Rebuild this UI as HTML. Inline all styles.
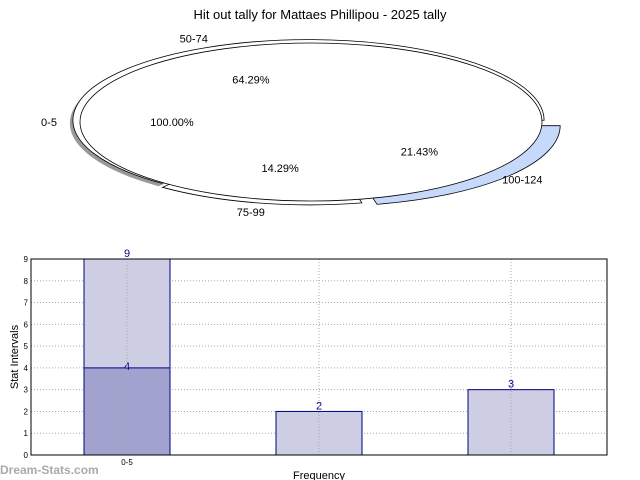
<!DOCTYPE html>
<html><head><meta charset="utf-8"><style>
body{margin:0;background:#fff;}
svg{display:block;font-family:"Liberation Sans","DejaVu Sans",sans-serif;}
</style></head><body>
<svg id="c" width="640" height="480" viewBox="0 0 640 480" xmlns="http://www.w3.org/2000/svg">
<text x="320" y="19" text-anchor="middle" font-size="13">Hit out tally for Mattaes Phillipou - 2025 tally</text>
<g id="pie"></g>
<g id="bars"></g>
<text x="0" y="474" font-size="12" font-weight="bold" fill="#aaa">Dream-Stats.com</text>
</svg>
<script>
// Pie data
const pieLabels = ["100-124", "75-99", "50-74"];
const piePercents = [21.43, 14.29, 64.29];
const pieColors = ["#c6d9fb", "#ffffff", "#ffffff"];
const pieExplode = [0.075, 0.03, 0.025];
const mainLabel = "0-5";
const mainPercent = 100.00;

// Bar data
const barCategories = ["0-5", "", ""];
const barTotals = [9, 2, 3];
const barInner = [4, 0, 0];
const yTicks = [0,1,2,3,4,5,6,7,8,9];

const NS = "http://www.w3.org/2000/svg";
function mk(tag, attrs, parent){const e=document.createElementNS(NS,tag);for(const k in attrs)e.setAttribute(k,attrs[k]);parent.appendChild(e);return e;}

// ---- Pie ----
const pie = document.getElementById('pie');
const cx=311, cy=122, rx=231, ry=79;
function pt(a, s, ox, oy){return [cx+ox+rx*s*Math.cos(a), cy+oy+ry*s*Math.sin(a)];}
let cum = 0;
const total = piePercents.reduce((a,b)=>a+b,0);
// shadow for the big wedge on the left
piePercents.forEach((p,i)=>{
  const a0 = cum/total*2*Math.PI, a1 = (cum+p)/total*2*Math.PI; cum += p;
  const mid=(a0+a1)/2, e=pieExplode[i];
  const ox=e*rx*Math.cos(mid), oy=e*ry*Math.sin(mid);
  const s=1.02;
  const [x0,y0]=pt(a0,s,ox,oy), [x1,y1]=pt(a1,s,ox,oy);
  const large=(a1-a0)>Math.PI?1:0;
  const d=`M${cx+ox},${cy+oy} L${x0},${y0} A${rx*s},${ry*s} 0 ${large} 1 ${x1},${y1} Z`;
  if(i===2){
    const sh=mk('path',{d:d,fill:'#999',transform:'translate(-3,3)'},pie);
    
    
  }
  const w=mk('path',{d:d,fill:pieColors[i],stroke:'#000','stroke-width':0.8},pie);
  
  
  const [lx,ly]=pt(mid,1.17,0,0);
  const t=mk('text',{x:lx,y:ly+4,'text-anchor':'middle','font-size':11},pie);
  t.textContent=pieLabels[i];
  
  
  const [px,py]=pt(mid,0.6,0,0);
  const t2=mk('text',{x:px,y:py+4,'text-anchor':'middle','font-size':11},pie);
  t2.textContent=p.toFixed(2)+'%';
  
  
});
const main=mk('ellipse',{cx:cx,cy:cy,rx:rx,ry:ry,fill:'#fff',stroke:'#000','stroke-width':0.8},pie);


// re-draw percentages on top of main ellipse
cum=0;
piePercents.forEach((p,i)=>{
  const mid=(cum+p/2)/total*2*Math.PI; cum+=p;
  const [px,py]=pt(mid,0.6,0,0);
  const t2=mk('text',{x:px,y:py+4,'text-anchor':'middle','font-size':11},pie);
  t2.textContent=p.toFixed(2)+'%';
  
  
});
const ml=mk('text',{x:49,y:126,'text-anchor':'middle','font-size':11},pie);
ml.textContent=mainLabel;


const mp=mk('text',{x:172,y:126,'text-anchor':'middle','font-size':11},pie);
mp.textContent=mainPercent.toFixed(2)+'%';



// ---- Bars ----
const bars=document.getElementById('bars');
const L=31,R=607,T=259,B=455,ymax=9;
const slot=(R-L)/barCategories.length, bw=86;
const X=i=>L+slot*(i+0.5);
const Y=v=>B-(B-T)*v/ymax;
yTicks.forEach(v=>{
  if(v>0&&v<ymax){const g=mk('line',{x1:L,x2:R,y1:Y(v),y2:Y(v),stroke:'#aaa','stroke-dasharray':'1,2'},bars);
  
  }
  const t=mk('text',{x:L-3,y:Y(v)+3,'text-anchor':'end','font-size':8},bars);
  t.textContent=v;
  
  
});
barCategories.forEach((c,i)=>{
  const r=mk('rect',{x:X(i)-bw/2,y:Y(barTotals[i]),width:bw,height:B-Y(barTotals[i]),fill:'#cdcde4',stroke:'#00008b','stroke-width':1},bars);
  
  
  if(barInner[i]>0){
    const r2=mk('rect',{x:X(i)-bw/2,y:Y(barInner[i]),width:bw,height:B-Y(barInner[i]),fill:'#a2a2cf',stroke:'#00008b','stroke-width':1},bars);
    
    
    const t2=mk('text',{x:X(i),y:Y(barInner[i])+2,'text-anchor':'middle','font-size':11,fill:'#00008b'},bars);
    t2.textContent=barInner[i];
    
    
  }
  const t=mk('text',{x:X(i),y:Y(barTotals[i])-2,'text-anchor':'middle','font-size':11,fill:'#00008b'},bars);
  t.textContent=barTotals[i];
  
  
  const v=mk('line',{x1:X(i),x2:X(i),y1:T,y2:B,stroke:'#aaa','stroke-dasharray':'1,2'},bars);
  
  
  const tl=mk('text',{x:X(i),y:B+10,'text-anchor':'middle','font-size':8},bars);
  tl.textContent=c;
  
  
});
const ax=mk('rect',{x:L,y:T,width:R-L,height:B-T,fill:'none',stroke:'#000','stroke-width':1},bars);


const xl=mk('text',{x:319,y:479,'text-anchor':'middle','font-size':11},bars);
xl.textContent='Frequency';


const yl=mk('text',{x:18,y:357,'text-anchor':'middle','font-size':11,transform:'rotate(-90 18 357)'},bars);
yl.textContent='Stat Intervals';


</script>
</body></html>
